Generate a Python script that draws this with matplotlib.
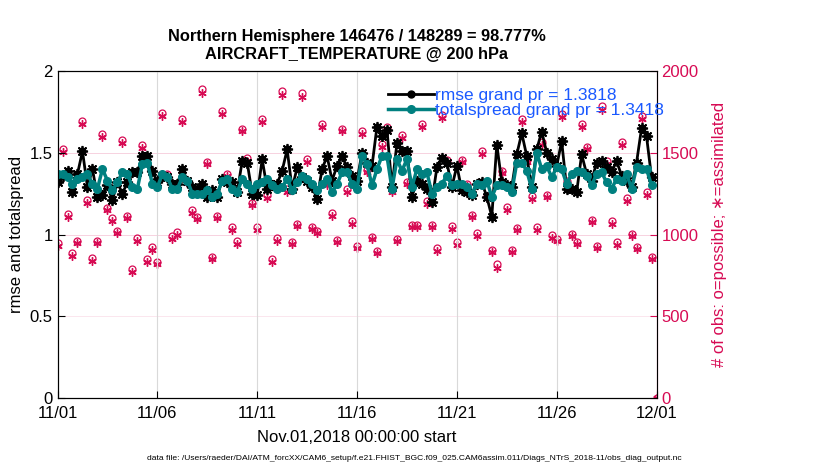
import numpy as np
import matplotlib
matplotlib.use('Agg')
import matplotlib.pyplot as plt

plt.rcParams['font.family'] = ['Liberation Sans', 'DejaVu Sans']

# 6-hourly bins from Nov.01 00Z to Dec.01 00Z
rmse = [1.32, 1.36, 1.39, 1.26, 1.37, 1.51, 1.29, 1.40, 1.23, 1.24,
        1.30, 1.21, 1.32, 1.25, 1.32, 1.38, 1.38, 1.48, 1.48, 1.39,
        1.32, 1.36, 1.35, 1.31, 1.31, 1.40, 1.33, 1.29, 1.28, 1.31,
        1.23, 1.27, 1.23, 1.34, 1.32, 1.32, 1.26, 1.45, 1.44, 1.25,
        1.24, 1.46, 1.28, 1.30, 1.31, 1.39, 1.52, 1.28, 1.41, 1.35,
        1.33, 1.29, 1.22, 1.40, 1.48, 1.33, 1.42, 1.48, 1.41, 1.36,
        1.33, 1.50, 1.44, 1.42, 1.66, 1.60, 1.64, 1.29, 1.56, 1.51,
        1.51, 1.23, 1.33, 1.31, 1.28, 1.20, 1.41, 1.47, 1.44, 1.29,
        1.42, 1.27, 1.26, 1.24, 1.31, 1.32, 1.23, 1.11, 1.55, 1.32,
        1.30, 1.29, 1.49, 1.62, 1.48, 1.29, 1.52, 1.63, 1.50, 1.46,
        1.42, 1.57, 1.28, 1.28, 1.26, 1.49, 1.37, 1.33, 1.44, 1.45,
        1.41, 1.38, 1.45, 1.36, 1.33, 1.29, 1.44, 1.65, 1.60, 1.35, np.nan]
spread = [1.37, 1.37, 1.35, 1.31, 1.34, 1.35, 1.37, 1.31, 1.28, 1.40,
          1.33, 1.27, 1.32, 1.38, 1.37, 1.29, 1.28, 1.43, 1.44, 1.31,
          1.29, 1.37, 1.35, 1.28, 1.28, 1.35, 1.33, 1.25, 1.25, 1.25,
          1.27, 1.23, 1.25, 1.33, 1.34, 1.28, 1.26, 1.34, 1.31, 1.28,
          1.31, 1.32, 1.34, 1.30, 1.28, 1.29, 1.34, 1.27, 1.32, 1.36,
          1.34, 1.31, 1.27, 1.31, 1.34, 1.26, 1.31, 1.38, 1.38, 1.31,
          1.28, 1.48, 1.43, 1.30, 1.40, 1.48, 1.48, 1.28, 1.46, 1.39,
          1.46, 1.29, 1.40, 1.37, 1.38, 1.25, 1.29, 1.31, 1.36, 1.30,
          1.31, 1.31, 1.29, 1.25, 1.31, 1.30, 1.33, 1.23, 1.30, 1.30,
          1.29, 1.26, 1.44, 1.44, 1.39, 1.28, 1.50, 1.40, 1.42, 1.35,
          1.41, 1.40, 1.31, 1.37, 1.39, 1.38, 1.36, 1.30, 1.37, 1.38,
          1.32, 1.28, 1.34, 1.33, 1.37, 1.28, 1.41, 1.40, 1.40, 1.30, np.nan]
nposs = [946, 1521, 1125, 885, 962, 1692, 1210, 856, 962, 1614,
         1165, 1100, 1023, 1579, 1115, 790, 976, 1549, 848, 922,
         834, 1743, 1369, 989, 1013, 1706, 1328, 1149, 1109, 1892,
         1444, 865, 1115, 1757, 1373, 1043, 958, 1648, 1466, 1194,
         1043, 1705, 1241, 848, 976, 1878, 1277, 956, 1064, 1868,
         1460, 1048, 1023, 1675, 1318, 1129, 968, 1648, 1277, 1080,
         932, 1634, 1397, 985, 899, 1555, 1657, 1274, 975, 1606,
         1324, 1061, 1061, 1674, 1202, 1060, 917, 1733, 1457, 1049,
         953, 1457, 1310, 1122, 1008, 1510, 1238, 906, 818, 1391,
         1167, 906, 1041, 1708, 1457, 1233, 1045, 1566, 1243, 994,
         973, 1736, 1325, 1006, 955, 1675, 1537, 1090, 931, 1786,
         1447, 1082, 953, 1566, 1221, 1004, 925, 1726, 1259, 863, 0]
nused = [931, 1506, 1110, 870, 947, 1674, 1195, 841, 947, 1597,
         1150, 1085, 1008, 1562, 1100, 772, 961, 1532, 833, 907,
         819, 1724, 1354, 974, 998, 1688, 1313, 1134, 1094, 1866,
         1429, 850, 1100, 1738, 1358, 1028, 943, 1631, 1451, 1179,
         1028, 1688, 1226, 833, 961, 1852, 1262, 941, 1049, 1842,
         1445, 1033, 1008, 1658, 1303, 1114, 953, 1631, 1262, 1065,
         917, 1617, 1382, 970, 884, 1538, 1640, 1259, 960, 1589,
         1309, 1046, 1046, 1657, 1187, 1045, 902, 1714, 1442, 1034,
         938, 1442, 1295, 1107, 993, 1495, 1223, 891, 797, 1376,
         1152, 891, 1026, 1690, 1442, 1218, 1030, 1549, 1228, 979,
         958, 1719, 1310, 991, 940, 1658, 1522, 1075, 916, 1762,
         1432, 1067, 938, 1549, 1206, 989, 910, 1704, 1244, 848, 0]
xticklabels = ['11/01', '11/06', '11/11', '11/16', '11/21', '11/26', '12/01']

days = np.arange(len(rmse)) * 0.25
obscol = (0.843, 0.039, 0.325)
teal = (0.0, 0.5, 0.5)
blue = (0.1, 0.35, 1.0)
asterisk = (6, 2, 0)

fig = plt.figure(figsize=(8.3, 4.7), dpi=100)
ax = fig.add_axes([0.0693, 0.1532, 0.7217, 0.6957])
ax2 = ax.twinx()

# obs counts on the right axis (behind the lines)
ax2.plot(days, nposs, 'o', color=obscol, mfc='none', ms=5, mew=0.9, zorder=1)
ax2.plot(days, nused, marker=asterisk, ls='none', color=obscol, ms=6, mew=1.0, zorder=1)
ax2.set_ylim(0, 2000)
ax2.set_yticks([0, 500, 1000, 1500, 2000])
ax2.tick_params(axis='y', colors=obscol, direction='in', labelsize=12, length=5)
ax2.spines['right'].set_color(obscol)
ax2.set_ylabel('# of obs: o=possible; \u2217=assimilated', color=obscol, fontsize=12, labelpad=10)
for v in [500, 1000, 1500]:
    ax2.axhline(v, color=obscol, lw=0.7, alpha=0.18 if v > 500 else 0.1, zorder=0)

ax.set_zorder(ax2.get_zorder() + 1)
ax.patch.set_visible(False)
for d in [5, 10, 15, 20, 25]:
    ax.axvline(d, color='0.85', lw=0.8, zorder=0)

l1, = ax.plot(days, rmse, '-o', color='k', lw=2, ms=5, label='rmse grand pr = 1.3818')
ax.plot(days, rmse, marker=(8, 2, 0), ls='none', color='k', ms=8, mew=1.2)
l2, = ax.plot(days, spread, '-o', color=teal, lw=2.5, ms=5.5, label='totalspread grand pr = 1.3418')

ax.set_xlim(0, 30)
ax.set_ylim(0, 2)
ax.set_xticks([0, 5, 10, 15, 20, 25, 30])
ax.set_xticklabels(xticklabels)
ax.set_yticks([0, 0.5, 1, 1.5, 2])
ax.set_yticklabels(['0', '0.5', '1', '1.5', '2'])
ax.tick_params(direction='in', labelsize=12, length=5, top=False)
ax.tick_params(axis='x', pad=6)
ax.set_ylabel('rmse and totalspread', fontsize=12)
ax.set_xlabel('Nov.01,2018 00:00:00 start', fontsize=12, labelpad=6)

leg = ax.legend(handles=[l1, l2], loc='upper left', bbox_to_anchor=(0.535, 0.98),
                frameon=False, fontsize=12.5, handlelength=2.6, handletextpad=0.1,
                labelspacing=0.0, borderaxespad=0.2)
for t in leg.get_texts():
    t.set_color(blue)

fig.text(0.43, 0.922, 'Northern Hemisphere 146476 / 148289 = 98.777%',
         ha='center', va='center', fontsize=11.8, fontweight='bold')
fig.text(0.43, 0.884, 'AIRCRAFT_TEMPERATURE @ 200 hPa',
         ha='center', va='center', fontsize=11.8, fontweight='bold')
fig.text(0.499, 0.025, 'data file: /Users/raeder/DAI/ATM_forcXX/CAM6_setup/f.e21.FHIST_BGC.f09_025.CAM6assim.011/Diags_NTrS_2018-11/obs_diag_output.nc',
         ha='center', va='center', fontsize=6.1)

fig.savefig('out.png', dpi=100)
